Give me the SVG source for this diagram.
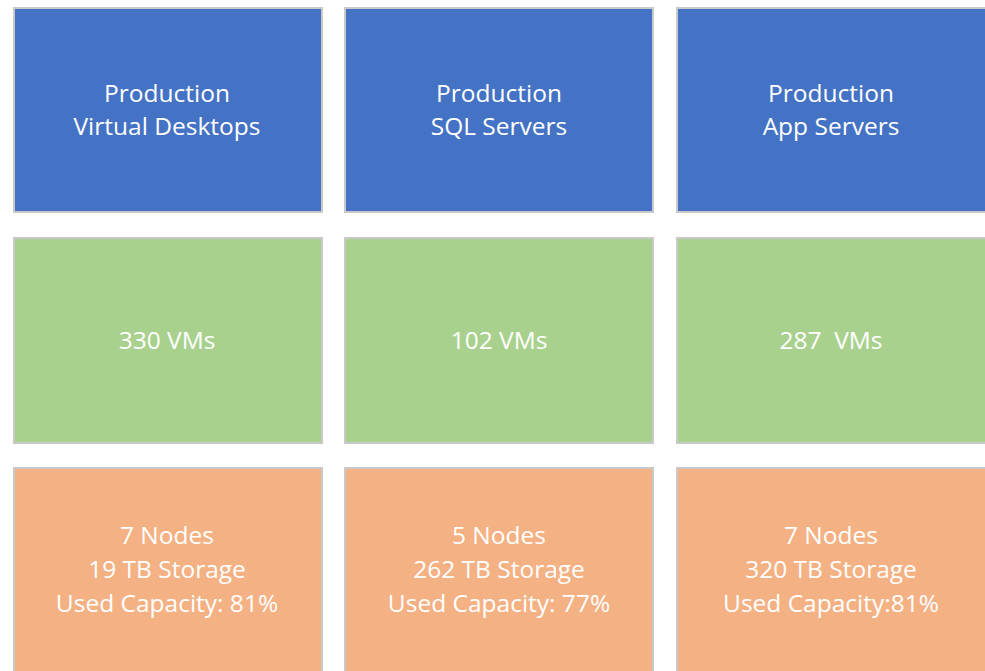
<svg xmlns="http://www.w3.org/2000/svg" width="985" height="671" viewBox="0 0 985 671">
<style>
.box{stroke:#c9c9c9;stroke-width:2}
.blue{fill:#4472c4}
.green{fill:#a9d18e}
.orange{fill:#f4b183}
text{font-family:"Open Sans","Liberation Sans",sans-serif;font-size:24.5px;fill:#ffffff;text-anchor:middle;dominant-baseline:central}
</style>
<rect width="985" height="671" fill="#ffffff"/>
<g id="connectors"></g>
<g id="n-vd"><rect class="box blue" x="14" y="8" width="308" height="204"/><text x="167" y="92">Production</text><text x="167" y="125">Virtual Desktops</text></g>
<g id="n-sql"><rect class="box blue" x="345" y="8" width="308" height="204"/><text x="499" y="92">Production</text><text x="499" y="125">SQL Servers</text></g>
<g id="n-app"><rect class="box blue" x="677" y="8" width="310" height="204"/><text x="831" y="92">Production</text><text x="831" y="125">App Servers</text></g>
<g id="n-vm1"><rect class="box green" x="14" y="238" width="308" height="205"/><text x="167" y="339">330 VMs</text></g>
<g id="n-vm2"><rect class="box green" x="345" y="238" width="308" height="205"/><text x="499" y="339">102 VMs</text></g>
<g id="n-vm3"><rect class="box green" x="677" y="238" width="310" height="205"/><text x="831" y="339" xml:space="preserve">287  VMs</text></g>
<g id="n-st1"><rect class="box orange" x="14" y="468" width="308" height="210"/><text x="167" y="534">7 Nodes</text><text x="167" y="568">19 TB Storage</text><text x="167" y="602">Used Capacity: 81%</text></g>
<g id="n-st2"><rect class="box orange" x="345" y="468" width="308" height="210"/><text x="499" y="534">5 Nodes</text><text x="499" y="568">262 TB Storage</text><text x="499" y="602">Used Capacity: 77%</text></g>
<g id="n-st3"><rect class="box orange" x="677" y="468" width="310" height="210"/><text x="831" y="534">7 Nodes</text><text x="831" y="568">320 TB Storage</text><text x="831" y="602">Used Capacity:81%</text></g>
</svg>
